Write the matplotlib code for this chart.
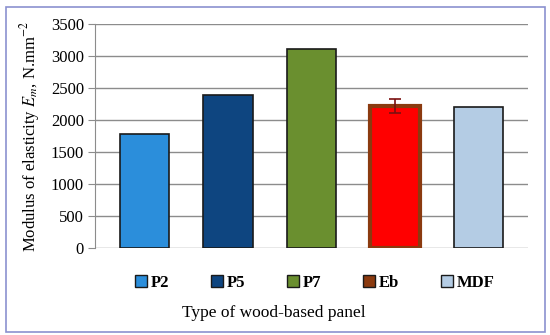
import matplotlib
matplotlib.use("Agg")
import matplotlib.pyplot as plt
from matplotlib.patches import Patch, Rectangle

# data
panels = ["P2", "P5", "P7", "Eb", "MDF"]
moe = [1790, 2390, 3110, 2220, 2200]
moe_err = [0, 0, 0, 115, 0]
face_colors = ["#2b8edb", "#0e4580", "#6a8f2f", "#ff0000", "#b4cce4"]
legend_colors = ["#2b8edb", "#0e4580", "#6a8f2f", "#8b3a0f", "#b4cce4"]
yticks = [0, 500, 1000, 1500, 2000, 2500, 3000, 3500]

plt.rcParams["font.family"] = "Liberation Serif"
plt.rcParams["mathtext.fontset"] = "stix"

fig = plt.figure(figsize=(5.5, 3.35), dpi=100)
# outer frame
fig.patches.append(Rectangle((6 / 550, 3 / 335), 539 / 550, 325 / 335,
                             transform=fig.transFigure, fill=False,
                             edgecolor="#8b91cf", linewidth=1.2))

ax = fig.add_axes([95 / 550, 1 - 248.3 / 335, 433 / 550, 224.3 / 335])

x = list(range(len(panels)))
edges = ["#1a1a1a", "#1a1a1a", "#1a1a1a", "#8b3a0f", "#1a1a1a"]
lws = [1.2, 1.2, 1.2, 3.0, 1.2]
ax.bar(x, moe, width=0.59, color=face_colors, edgecolor=edges, linewidth=lws, zorder=3)
ax.errorbar(x[3], moe[3], yerr=moe_err[3], fmt="none", ecolor="#7a1010",
            elinewidth=1.2, capsize=4, capthick=1.2, zorder=4)

ax.set_ylim(0, 3500)
ax.set_xlim(-0.59, 4.59)
ax.set_yticks(yticks)
ax.set_xticks([])
ax.yaxis.grid(True, color="#8c8c8c", linewidth=1.0, zorder=0)
ax.set_axisbelow(True)
for s in ["top", "right", "bottom"]:
    ax.spines[s].set_visible(False)
ax.spines["left"].set_color("#8c8c8c")
ax.tick_params(axis="y", length=5, color="#8c8c8c", labelsize=12, pad=3)

ax.set_ylabel("Modulus of elasticity $\\mathit{E_m}$, N.mm$^{-2}$", fontsize=12, labelpad=6)

handles = [Patch(facecolor=c, edgecolor="#1a1a1a", linewidth=1) for c in legend_colors]
leg = fig.legend(handles, panels, loc="center", bbox_to_anchor=(0.572, 1 - 283 / 335),
                 ncol=5, frameon=False, handlelength=0.75, handleheight=0.75,
                 handletextpad=0.2, columnspacing=2.5, prop={"weight": "bold", "size": 12})

fig.text(0.497, 1 - 313 / 335, "Type of wood-based panel", ha="center", va="center", fontsize=12.5)

fig.savefig("out.png", dpi=100)
